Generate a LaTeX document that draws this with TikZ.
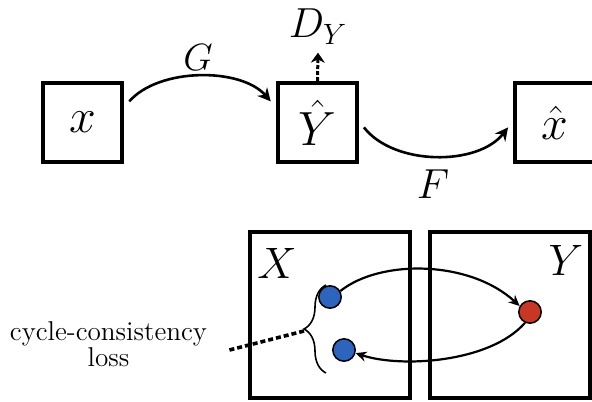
\documentclass[tikz,border=0pt]{standalone}
\usepackage{fix-cm}
\usetikzlibrary{arrows.meta,positioning,decorations.pathreplacing}
\definecolor{dotblue}{RGB}{45,100,190}
\definecolor{dotred}{RGB}{200,55,35}
\tikzset{
  >={Stealth[length=6.5pt,width=6.5pt]},
  mapbox/.style={draw,line width=2pt,minimum size=39.5pt,inner sep=0pt,
    font=\fontsize{24}{24}\selectfont},
  setbox/.style={draw,line width=2pt,minimum width=80pt,minimum height=83pt,inner sep=0pt},
  sample/.style={circle,draw,line width=0.75pt,fill=#1,minimum size=11.2pt,inner sep=0pt},
  sample/.default=dotblue,
  maplabel/.style={font=\fontsize{#1}{#1}\selectfont,inner sep=0pt},
  maplabel/.default=19,
  mapping/.style={->,line width=1.3pt,shorten <=4pt,shorten >=4pt},
  critic/.style={->,line width=1.5pt,dash pattern=on 2pt off 1pt,
    >={Stealth[length=5pt,width=7pt]}},
  cycle/.style={->,line width=1.1pt,>={Stealth[length=5.5pt,width=5pt]}},
  lossline/.style={line width=1.8pt,dash pattern=on 2.5pt off 1.5pt},
}
\begin{document}
\begin{tikzpicture}[x=0.5pt,y=-0.5pt]
  \useasboundingbox (0,0) rectangle (592,401);
  % mappings G and F
  \node[mapbox] (xnode) at (82.5,122.5) {$x$};
  \node[mapbox] (yhat) at (317.5,122.5) {$\hat{Y}$};
  \node[mapbox] (xhat) at (554.5,122.5) {$\hat{x}$};
  \node[maplabel] (G) at (198,58) {$G$};
  \node[maplabel=21] (F) at (433,184) {$F$};
  \node[maplabel=21,inner sep=4pt,anchor=base] (dy) at (318,38) {$D_Y$};
  \draw[mapping] (xnode.20) .. controls +(35,-40) and +(-35,-40) .. (yhat.160);
  \draw[mapping] (yhat.2) .. controls +(35,45) and +(-35,45) .. (xhat.178);
  \draw[critic] (yhat.north) -- (dy.south);
  % sets X and Y
  \node[setbox] (Xset) at (330,315) {};
  \node[setbox] (Yset) at (510,315) {};
  \node[maplabel=22] (Xlab) at (277,263) {$X$};
  \node[maplabel=22] (Ylab) at (566,260) {$Y$};
  \node[sample] (a) at (330,297) {};
  \node[sample] (arec) at (344,350) {};
  \node[sample=dotred] (b) at (530,312) {};
  \draw[cycle] (a.30) .. controls +(40,-32) and +(-50,-46) .. (b.150);
  \draw[cycle] (b.-115) .. controls +(-35,40) and +(45,15) .. (arec.-15);
  % cycle-consistency loss
  \draw[line width=0.8pt,decorate,decoration={brace,amplitude=11pt}] (326,373) -- (326,285);
  \coordinate (tip) at (304,331);
  \node[align=center,font=\fontsize{13.6}{13}\selectfont,inner sep=0pt] (loss) at (108.5,344)
    {cycle-consistency\\loss};
  \draw[lossline] ([xshift=11pt,yshift=-3pt]loss.east) -- (tip);
\end{tikzpicture}
\end{document}
